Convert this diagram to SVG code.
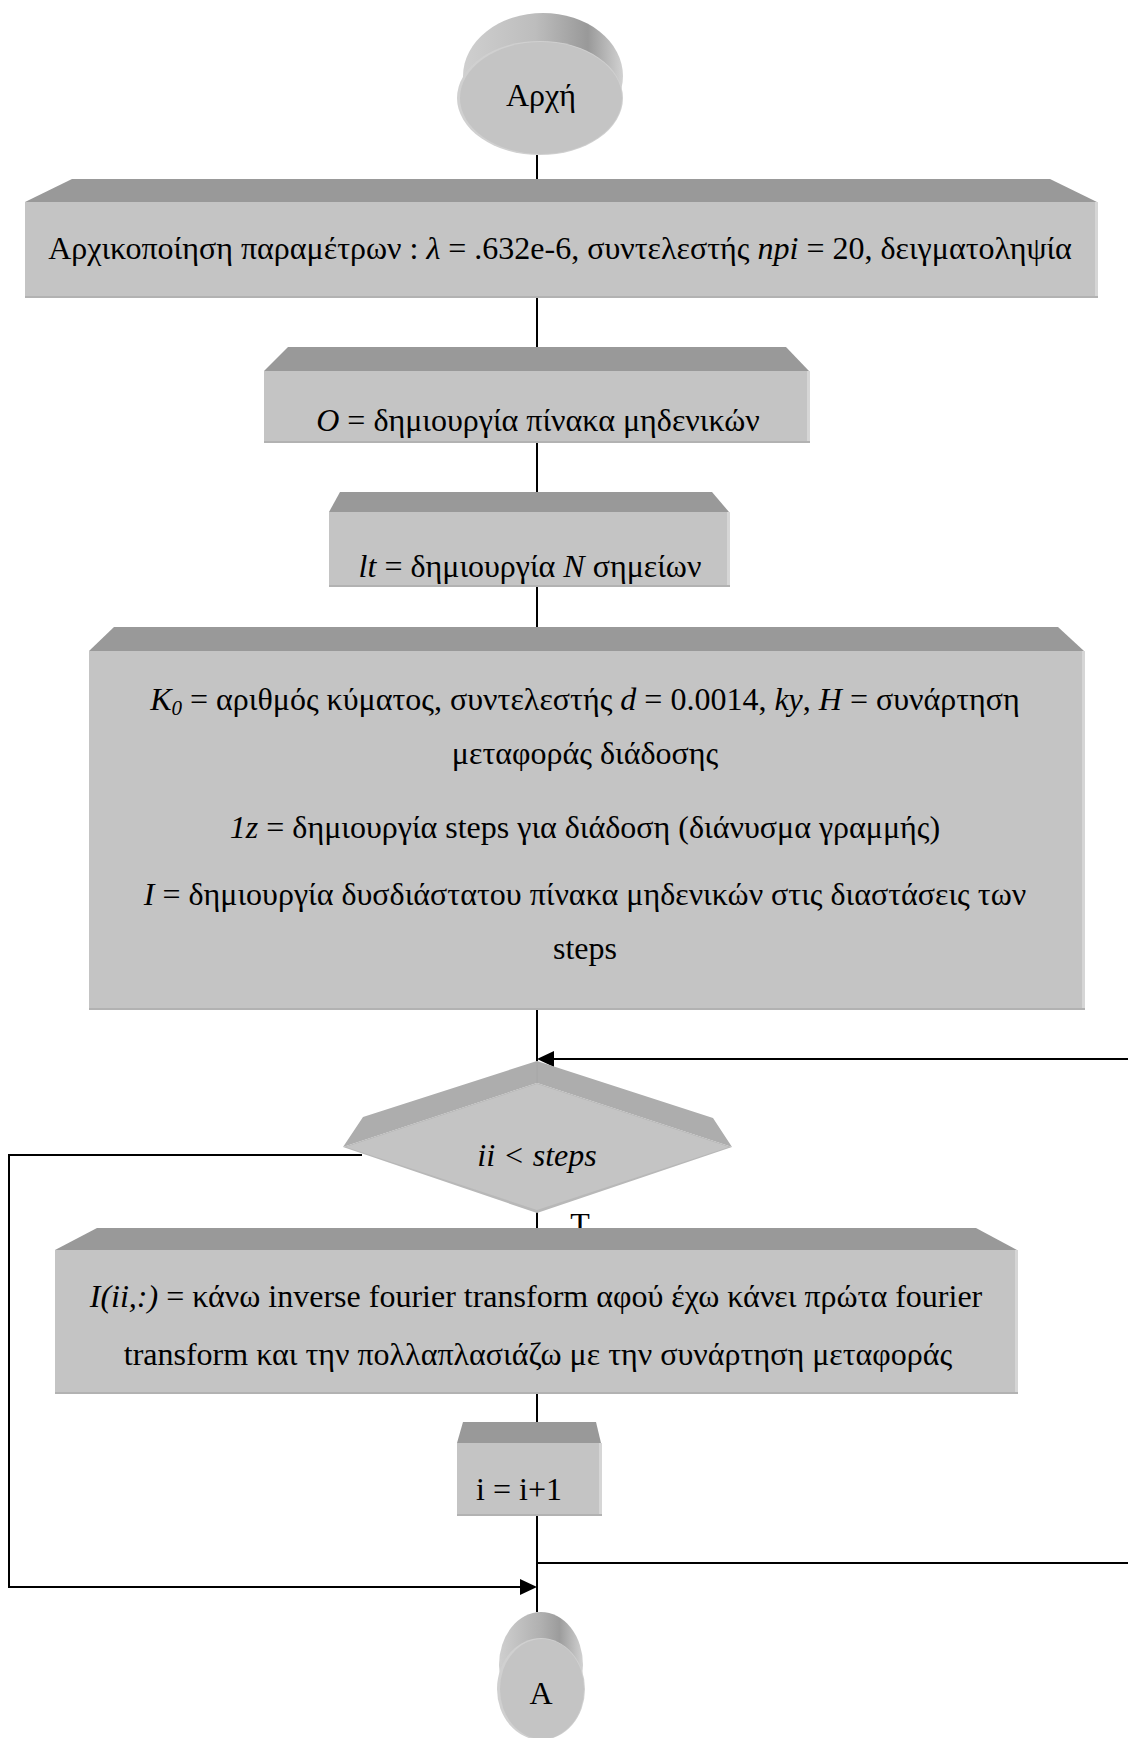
<svg xmlns="http://www.w3.org/2000/svg" width="1128" height="1738" viewBox="0 0 1128 1738">
<style>
text{font-family:"Liberation Serif","Times New Roman",serif;font-size:32px;fill:#000}
.c{text-anchor:middle}
.i{font-style:italic}
.face{fill:#c4c4c4}
.bev{fill:#999999}
.dbev{fill:#adadad}
.edgeR{fill:#d6d6d6}
.edgeB{fill:#b2b2b2}
.ln{stroke:#000;stroke-width:2;fill:none}
</style>
<defs>
<linearGradient id="cylTop" x1="0" y1="0" x2="1" y2="0">
<stop offset="0" stop-color="#cfcfcf"/>
<stop offset="0.45" stop-color="#bdbdbd"/>
<stop offset="0.78" stop-color="#999999"/>
<stop offset="1" stop-color="#d2d2d2"/>
</linearGradient>
<linearGradient id="cylTop2" x1="0" y1="0" x2="1" y2="0">
<stop offset="0" stop-color="#cfcfcf"/>
<stop offset="0.5" stop-color="#b0b0b0"/>
<stop offset="0.72" stop-color="#9c9c9c"/>
<stop offset="1" stop-color="#d2d2d2"/>
</linearGradient>
</defs>

<g id="connectors">
<line class="ln" x1="537" y1="155" x2="537" y2="179"/>
<line class="ln" x1="537" y1="298" x2="537" y2="347"/>
<line class="ln" x1="537" y1="443" x2="537" y2="492"/>
<line class="ln" x1="537" y1="587" x2="537" y2="627"/>
<line class="ln" x1="537" y1="1010" x2="537" y2="1061"/>
<polyline class="ln" points="1128,1059 550,1059"/>
<polygon points="537,1059 554,1051 554,1067" fill="#000"/>
<polyline class="ln" points="362,1155 9,1155 9,1587 524,1587"/>
<polygon points="537,1587 520,1579 520,1595" fill="#000"/>
<line class="ln" x1="537" y1="1212" x2="537" y2="1228"/>
<text x="580" y="1235" class="c">T</text>
<line class="ln" x1="537" y1="1394" x2="537" y2="1422"/>
<line class="ln" x1="537" y1="1516" x2="537" y2="1612"/>
<line class="ln" x1="537" y1="1563" x2="1128" y2="1563"/>
</g>

<g id="start">
<ellipse cx="543" cy="76" rx="80" ry="63" fill="url(#cylTop)"/>
<ellipse cx="540" cy="98" rx="83" ry="57" fill="#d0d0d0"/>
<ellipse cx="541" cy="98" rx="81" ry="56" class="face"/>
<text x="541" y="106" class="c">Αρχή</text>
</g>

<g id="init">
<polygon class="bev" points="25,202 72,179 1050,179 1097,202"/>
<rect class="face" x="25" y="202" width="1072" height="96"/>
<rect class="edgeR" x="1095" y="202" width="3" height="96"/>
<rect class="edgeB" x="25" y="296" width="1073" height="2"/>
<text x="560" y="259" class="c">Αρχικοποίηση παραμέτρων : <tspan class="i">λ</tspan> = .632e-6, συντελεστής <tspan class="i">npi</tspan> = 20, δειγματοληψία</text>
</g>

<g id="zeros">
<polygon class="bev" points="264,371 288,347 786,347 809,371"/>
<rect class="face" x="264" y="371" width="545" height="72"/>
<rect class="edgeR" x="807" y="371" width="3" height="72"/>
<rect class="edgeB" x="264" y="441" width="546" height="2"/>
<text x="538" y="431" class="c"><tspan class="i">O</tspan> = δημιουργία πίνακα μηδενικών</text>
</g>

<g id="points">
<polygon class="bev" points="329,512 340,492 712,492 729,512"/>
<rect class="face" x="329" y="512" width="400" height="75"/>
<rect class="edgeR" x="727" y="512" width="3" height="75"/>
<rect class="edgeB" x="329" y="585" width="401" height="2"/>
<text x="530" y="577" class="c"><tspan class="i">lt</tspan> = δημιουργία <tspan class="i">N</tspan> σημείων</text>
</g>

<g id="params">
<polygon class="bev" points="89,651 114,627 1058,627 1084,651"/>
<rect class="face" x="89" y="651" width="995" height="359"/>
<rect class="edgeR" x="1082" y="651" width="3" height="359"/>
<rect class="edgeB" x="89" y="1008" width="996" height="2"/>
<text x="585" y="710" class="c"><tspan class="i">K</tspan><tspan class="i" font-size="21" dy="5">0</tspan><tspan dy="-5"> = αριθμός κύματος, συντελεστής </tspan><tspan class="i">d</tspan> = 0.0014, <tspan class="i">ky</tspan>, <tspan class="i">H</tspan> = συνάρτηση</text>
<text x="585" y="764" class="c">μεταφοράς διάδοσης</text>
<text x="585" y="838" class="c"><tspan class="i">1z</tspan> = δημιουργία steps για διάδοση (διάνυσμα γραμμής)</text>
<text x="585" y="905" class="c"><tspan class="i">I</tspan> = δημιουργία δυσδιάστατου πίνακα μηδενικών στις διαστάσεις των</text>
<text x="585" y="959" class="c">steps</text>
</g>

<g id="decision">
<polygon class="dbev" points="343,1147 363,1117 537,1061 713,1118 732,1147 537,1083"/>
<line x1="537" y1="1061" x2="537" y2="1083" stroke="#a6a6a6" stroke-width="1"/>
<polygon points="343,1147 537,1083 732,1147 537,1213" fill="#b8b8b8"/>
<polygon class="face" points="346,1147 537,1084 729,1147 537,1210"/>
<text x="537" y="1166" class="c i">ii &lt; steps</text>
</g>

<g id="transform">
<polygon class="bev" points="55,1250 97,1228 976,1228 1017,1250"/>
<rect class="face" x="55" y="1250" width="962" height="144"/>
<rect class="edgeR" x="1015" y="1250" width="3" height="144"/>
<rect class="edgeB" x="55" y="1392" width="963" height="2"/>
<text x="536" y="1307" class="c"><tspan class="i">I(ii,:)</tspan> = κάνω inverse fourier transform αφού έχω κάνει πρώτα fourier</text>
<text x="538" y="1365" class="c">transform και την πολλαπλασιάζω με την συνάρτηση μεταφοράς</text>
</g>

<g id="increment">
<polygon class="bev" points="457,1443 463,1422 596,1422 601,1443"/>
<rect class="face" x="457" y="1443" width="144" height="73"/>
<rect class="edgeR" x="599" y="1443" width="3" height="73"/>
<rect class="edgeB" x="457" y="1514" width="145" height="2"/>
<text x="519" y="1500" class="c">i = i+1</text>
</g>

<g id="end">
<ellipse cx="541" cy="1665" rx="42" ry="53" fill="url(#cylTop2)"/>
<ellipse cx="541" cy="1689" rx="44" ry="51" fill="#d0d0d0"/>
<ellipse cx="542" cy="1689" rx="42" ry="50" class="face"/>
<text x="541" y="1704" class="c">A</text>
</g>
</svg>
